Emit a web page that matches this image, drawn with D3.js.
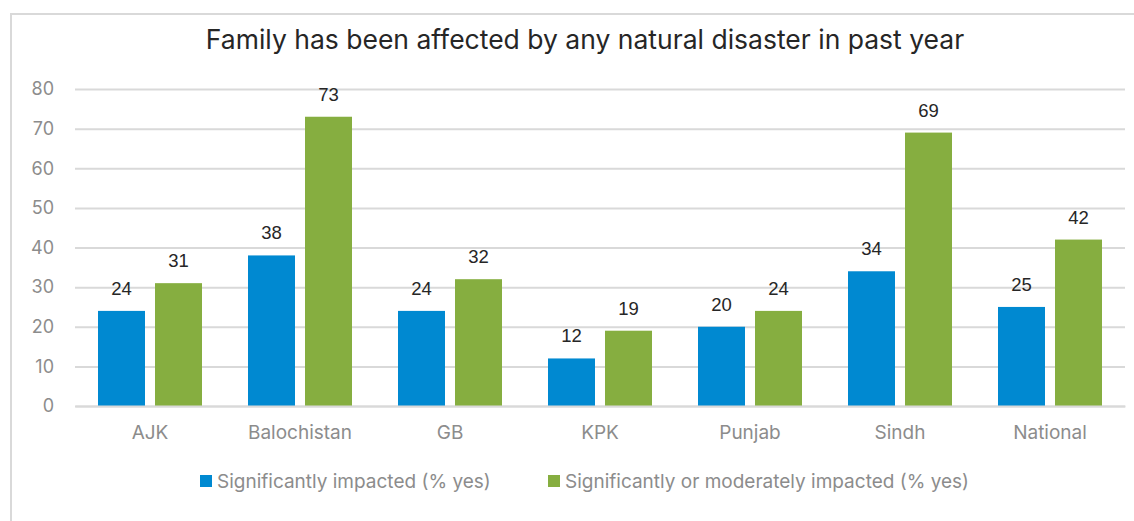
<!DOCTYPE html>
<html>
<head>
<meta charset="utf-8">
<script src="https://cdn.jsdelivr.net/npm/d3@7"></script>
<style>
  body { margin: 0; background: #fff; }
  svg text { font-family: Inter, "Noto Sans", sans-serif; }
</style>
</head>
<body>
<div id="chart"></div>
<script>
// chart data
let categories = ["AJK", "Balochistan", "GB", "KPK", "Punjab", "Sindh", "National"];
let seriesNames = ["Significantly impacted (% yes)", "Significantly or moderately impacted (% yes)"];
let significant = [24, 38, 24, 12, 20, 34, 25];
let sigOrModerate = [31, 73, 32, 19, 24, 69, 42];
let yTicks = [0, 10, 20, 30, 40, 50, 60, 70, 80];
let title = "Family has been affected by any natural disaster in past year";

let colors = ["#0089d1", "#86ae40"];
let seriesValues = [significant, sigOrModerate];

let width = 1134, height = 521;
let plot = { left: 75, right: 1125, top: 89, bottom: 406 };

let svg = d3.select("#chart").append("svg")
  .attr("width", width)
  .attr("height", height);

// outer frame (cropped on the right and bottom)
svg.append("rect")
  .attr("x", 11).attr("y", 14)
  .attr("width", 1200).attr("height", 600)
  .attr("fill", "none")
  .attr("stroke", "#d9d9d9")
  .attr("stroke-width", 2);

let xScale = d3.scaleBand().domain(categories).range([plot.left, plot.right]);
let innerScale = d3.scaleBand().domain([0, 1])
  .range([0, xScale.bandwidth()])
  .paddingInner(0.1754)
  .paddingOuter(0.4035);
let yScale = d3.scaleLinear().domain([0, 80]).range([plot.bottom, plot.top]);

// gridlines + y labels
let yAxis = d3.axisLeft(yScale)
  .tickValues(yTicks)
  .tickSize(-(plot.right - plot.left))
  .tickPadding(21);
let yg = svg.append("g")
  .attr("transform", "translate(" + plot.left + ",0)")
  .call(yAxis);
yg.select(".domain").remove();
yg.selectAll(".tick line").attr("stroke", "#d9d9d9").attr("stroke-width", 2);
yg.selectAll(".tick text")
  .attr("fill", "#8c8c8c")
  .style("font-size", "18px");

// bars
let groups = svg.append("g").selectAll("g")
  .data(categories)
  .enter()
  .append("g")
  .attr("transform", function(d) { return "translate(" + xScale(d) + ",0)"; });

groups.selectAll("rect")
  .data(function(d, i) { return seriesValues.map(function(s, k) { return { k: k, v: s[i] }; }); })
  .enter()
  .append("rect")
  .attr("x", function(d) { return innerScale(d.k); })
  .attr("width", innerScale.bandwidth())
  .attr("y", function(d) { return yScale(d.v); })
  .attr("height", function(d) { return yScale(0) - yScale(d.v); })
  .attr("fill", function(d) { return colors[d.k]; });

groups.selectAll("text.val")
  .data(function(d, i) { return seriesValues.map(function(s, k) { return { k: k, v: s[i] }; }); })
  .enter()
  .append("text")
  .attr("class", "val")
  .attr("x", function(d) { return innerScale(d.k) + innerScale.bandwidth() / 2; })
  .attr("y", function(d) { return yScale(d.v) - 16; })
  .attr("text-anchor", "middle")
  .attr("fill", "#262626")
  .style("font-family", "'Liberation Sans', Arial, sans-serif")
  .style("font-size", "18.5px")
  .text(function(d) { return d.v; });

// x axis baseline + labels
let xAxis = d3.axisBottom(xScale).tickSize(0).tickPadding(20);
let xg = svg.append("g")
  .attr("transform", "translate(0," + plot.bottom + ")")
  .call(xAxis);
xg.select(".domain").attr("stroke", "#d9d9d9").attr("stroke-width", 2);
xg.selectAll(".tick text")
  .attr("fill", "#8c8c8c")
  .style("font-size", "19px");

// title
svg.append("text")
  .attr("x", 585).attr("y", 49)
  .attr("text-anchor", "middle")
  .attr("fill", "#262626")
  .style("font-size", "26.5px")
  .text(title);

// legend
let legendX = [200, 548];
let legend = svg.append("g").selectAll("g")
  .data(seriesNames)
  .enter()
  .append("g")
  .attr("transform", function(d, i) { return "translate(" + legendX[i] + ",475)"; });
legend.append("rect")
  .attr("width", 12).attr("height", 12)
  .attr("fill", function(d, i) { return colors[i]; });
legend.append("text")
  .attr("x", 17).attr("y", 13)
  .attr("fill", "#8c8c8c")
  .style("font-size", "19px")
  .text(function(d) { return d; });
</script>
</body>
</html>
